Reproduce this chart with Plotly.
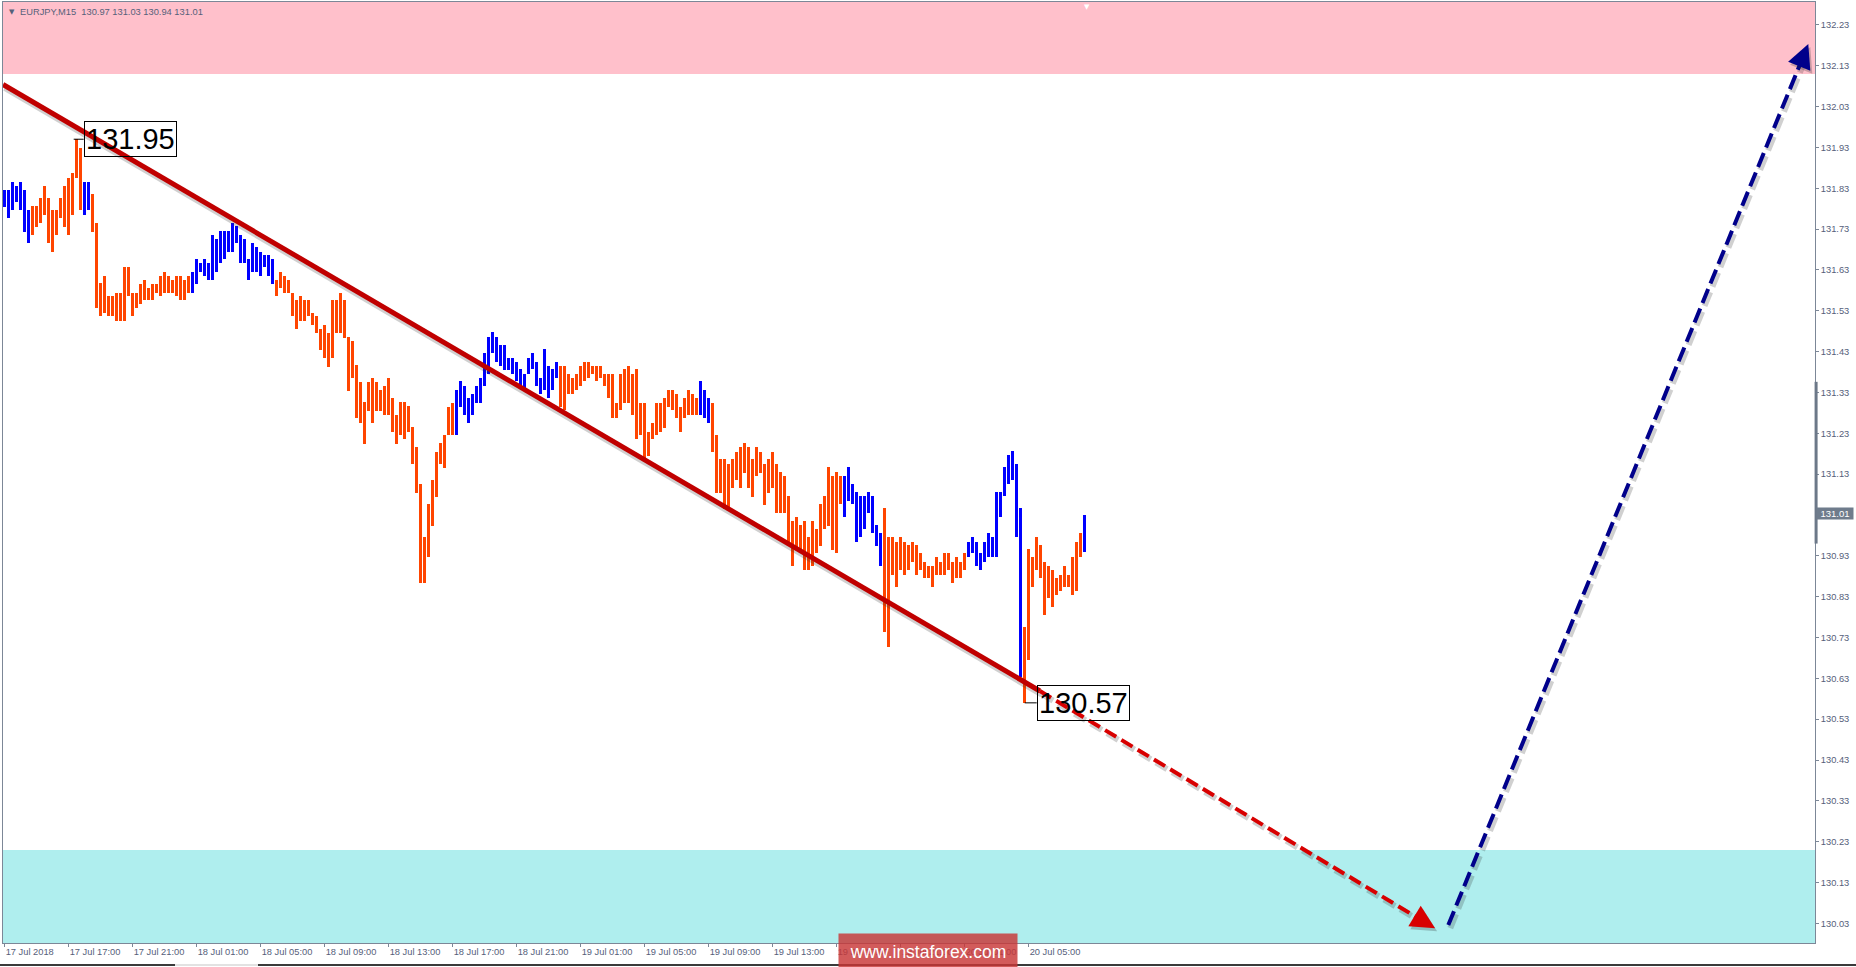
import math
import plotly.graph_objects as go

# ---------------- data ----------------
header_text = "EURJPY,M15  130.97 131.03 130.94 131.01"

bar_high = [
    131.826, 131.826, 131.846, 131.836, 131.846, 131.826, 131.777, 131.787, 131.787, 131.806,
    131.836, 131.806, 131.777, 131.777, 131.806, 131.836, 131.856, 131.867, 131.950, 131.928,
    131.846, 131.846, 131.815, 131.746, 131.597, 131.615, 131.566, 131.566, 131.574, 131.574,
    131.638, 131.638, 131.574, 131.574, 131.595, 131.605, 131.585, 131.595, 131.595, 131.615,
    131.626, 131.615, 131.605, 131.615, 131.615, 131.605, 131.615, 131.626, 131.656, 131.646,
    131.656, 131.646, 131.716, 131.705, 131.725, 131.725, 131.725, 131.746, 131.738, 131.716,
    131.705, 131.656, 131.695, 131.685, 131.675, 131.667, 131.667, 131.656, 131.605, 131.626,
    131.615, 131.605, 131.574, 131.556, 131.566, 131.556, 131.556, 131.525, 131.516, 131.485,
    131.495, 131.475, 131.556, 131.556, 131.574, 131.556, 131.465, 131.456, 131.397, 131.356,
    131.307, 131.356, 131.366, 131.356, 131.336, 131.346, 131.366, 131.317, 131.276, 131.307,
    131.307, 131.297, 131.246, 131.197, 131.107, 130.977, 131.057, 131.116, 131.185, 131.206,
    131.226, 131.295, 131.305, 131.336, 131.357, 131.346, 131.316, 131.325, 131.346, 131.365,
    131.426, 131.467, 131.477, 131.467, 131.446, 131.446, 131.415, 131.415, 131.405, 131.387,
    131.374, 131.415, 131.426, 131.405, 131.365, 131.436, 131.395, 131.387, 131.405, 131.395,
    131.395, 131.374, 131.365, 131.374, 131.395, 131.405, 131.405, 131.395, 131.395, 131.395,
    131.374, 131.374, 131.374, 131.305, 131.374, 131.387, 131.395, 131.374, 131.387, 131.305,
    131.305, 131.234, 131.254, 131.305, 131.305, 131.316, 131.336, 131.336, 131.325, 131.295,
    131.316, 131.336, 131.325, 131.316, 131.357, 131.336, 131.316, 131.305, 131.226, 131.166,
    131.166, 131.156, 131.166, 131.185, 131.197, 131.206, 131.197, 131.166, 131.197, 131.185,
    131.156, 131.166, 131.185, 131.156, 131.136, 131.125, 131.076, 131.016, 131.026, 131.005,
    131.016, 130.977, 131.016, 130.995, 131.057, 131.076, 131.148, 131.125, 131.136, 131.125,
    131.125, 131.148, 131.106, 131.087, 131.076, 131.076, 131.087, 131.076, 131.005, 130.985,
    131.046, 130.977, 130.975, 130.965, 130.975, 130.965, 130.956, 130.965, 130.956, 130.936,
    130.916, 130.905, 130.905, 130.926, 130.916, 130.936, 130.936, 130.916, 130.926, 130.916,
    130.936, 130.965, 130.977, 130.965, 130.936, 130.965, 130.985, 130.975, 131.087, 131.087,
    131.148, 131.177, 131.187, 131.156, 131.046, 130.756, 130.946, 130.926, 130.975, 130.956,
    130.916, 130.905, 130.895, 130.875, 130.883, 130.905, 130.883, 130.926, 130.965, 130.985,
    131.030,
]

bar_low = [
    131.785, 131.757, 131.777, 131.797, 131.777, 131.724, 131.695, 131.716, 131.736, 131.746,
    131.765, 131.695, 131.675, 131.716, 131.757, 131.736, 131.716, 131.765, 131.855, 131.777,
    131.765, 131.777, 131.724, 131.536, 131.516, 131.525, 131.516, 131.516, 131.506, 131.506,
    131.506, 131.565, 131.516, 131.536, 131.547, 131.557, 131.557, 131.557, 131.574, 131.566,
    131.574, 131.574, 131.574, 131.565, 131.557, 131.557, 131.574, 131.574, 131.595, 131.626,
    131.615, 131.605, 131.605, 131.626, 131.646, 131.656, 131.675, 131.675, 131.695, 131.646,
    131.646, 131.605, 131.626, 131.626, 131.615, 131.638, 131.615, 131.595, 131.565, 131.585,
    131.574, 131.574, 131.516, 131.485, 131.506, 131.506, 131.516, 131.495, 131.475, 131.434,
    131.414, 131.393, 131.414, 131.475, 131.475, 131.464, 131.334, 131.365, 131.267, 131.254,
    131.205, 131.285, 131.254, 131.285, 131.285, 131.275, 131.275, 131.234, 131.205, 131.226,
    131.215, 131.234, 131.156, 131.085, 130.863, 130.864, 130.926, 131.003, 131.075, 131.156,
    131.144, 131.226, 131.226, 131.226, 131.295, 131.275, 131.254, 131.275, 131.305, 131.305,
    131.346, 131.374, 131.426, 131.405, 131.395, 131.385, 131.385, 131.374, 131.357, 131.346,
    131.336, 131.374, 131.387, 131.346, 131.325, 131.336, 131.316, 131.336, 131.365, 131.295,
    131.286, 131.325, 131.325, 131.336, 131.346, 131.357, 131.365, 131.374, 131.357, 131.365,
    131.346, 131.316, 131.267, 131.267, 131.286, 131.305, 131.305, 131.275, 131.215, 131.226,
    131.166, 131.174, 131.215, 131.226, 131.234, 131.244, 131.295, 131.286, 131.267, 131.234,
    131.267, 131.275, 131.275, 131.275, 131.275, 131.267, 131.254, 131.185, 131.085, 131.085,
    131.044, 131.044, 131.095, 131.116, 131.095, 131.134, 131.095, 131.075, 131.126, 131.134,
    131.055, 131.085, 131.095, 131.034, 131.036, 131.036, 130.965, 130.905, 130.944, 130.936,
    130.895, 130.895, 130.905, 130.936, 130.954, 130.995, 131.003, 130.944, 130.936, 131.057,
    131.026, 131.065, 131.057, 130.965, 130.975, 130.995, 131.036, 130.985, 130.954, 130.905,
    130.744, 130.706, 130.883, 130.854, 130.895, 130.883, 130.895, 130.916, 130.883, 130.895,
    130.875, 130.875, 130.854, 130.883, 130.883, 130.883, 130.895, 130.864, 130.875, 130.875,
    130.895, 130.926, 130.936, 130.905, 130.895, 130.916, 130.926, 130.926, 130.926, 131.026,
    131.076, 131.106, 131.116, 130.975, 130.634, 130.570, 130.676, 130.854, 130.895, 130.875,
    130.785, 130.826, 130.805, 130.834, 130.845, 130.854, 130.854, 130.834, 130.845, 130.926,
    130.940,
]

# wave colouring: (colour key, number of bars)
color_runs = [
    ("up", 7), ("down", 13), ("up", 2), ("down", 25), ("up", 21), ("down", 45),
    ("up", 26), ("down", 35), ("up", 3), ("down", 33), ("up", 10), ("down", 21),
    ("up", 14), ("down", 15), ("up", 1),
]

x_tick_bars = [0, 16, 32, 48, 64, 80, 96, 112, 128, 144, 160, 176, 192, 208, 224, 240, 256]
x_tick_labels = [
    "17 Jul 2018", "17 Jul 17:00", "17 Jul 21:00", "18 Jul 01:00", "18 Jul 05:00",
    "18 Jul 09:00", "18 Jul 13:00", "18 Jul 17:00", "18 Jul 21:00", "19 Jul 01:00",
    "19 Jul 05:00", "19 Jul 09:00", "19 Jul 13:00", "19 Jul 17:00", "19 Jul 21:00",
    "20 Jul 01:00", "20 Jul 05:00",
]

y_tick_labels = [
    "130.03", "130.13", "130.23", "130.33", "130.43", "130.53", "130.63", "130.73",
    "130.83", "130.93", "131.03", "131.13", "131.23", "131.33", "131.43", "131.53",
    "131.63", "131.73", "131.83", "131.93", "132.03", "132.13", "132.23",
]

last_price = 131.01
peak_label = "131.95"
peak_bar = 18
trough_label = "130.57"
trough_bar = 255

resistance_zone = [132.11, 132.40]
support_zone = [129.90, 130.21]

trend_x = [-0.42, 258.8]
trend_y = [132.084, 130.599]
down_forecast_x = [258.8, 357.6]
down_forecast_y = [130.599, 130.018]
up_forecast_x = [360.9, 450.9]
up_forecast_y = [130.026, 132.183]

# ---------------- layout constants ----------------
W, H = 1856, 967
ML, MR, MT, MB = 3, 41, 2, 24
X_RANGE = [-0.425, 452.575]
Y_RANGE = [129.982, 132.286]
PX_PER_X = (W - ML - MR) / (X_RANGE[1] - X_RANGE[0])
PX_PER_Y = (H - MT - MB) / (Y_RANGE[1] - Y_RANGE[0])

UP_COLOR = "#0000FF"
DOWN_COLOR = "#FF4500"
AXIS_COLOR = "#7c8797"
TEXT_COLOR = "#56607a"

colors = []
for key, n in color_runs:
    colors += [UP_COLOR if key == "up" else DOWN_COLOR] * n

idx = list(range(len(bar_high)))

fig = go.Figure()

fig.add_trace(go.Bar(
    x=idx,
    y=[h - l for h, l in zip(bar_high, bar_low)],
    base=bar_low,
    width=0.75,
    marker=dict(color=colors, line=dict(width=0)),
    hoverinfo="skip",
    showlegend=False,
))

# pixel offset helper for shadows
def shift(xs, ys, dx_px, dy_px):
    return ([x + dx_px / PX_PER_X for x in xs], [y - dy_px / PX_PER_Y for y in ys])

def add_line(xs, ys, color, width, dash=None):
    sx, sy = shift(xs, ys, 2, 3)
    fig.add_trace(go.Scatter(x=sx, y=sy, mode="lines",
                             line=dict(color="rgba(40,40,40,0.22)", width=width + 2, dash=dash),
                             hoverinfo="skip", showlegend=False))
    fig.add_trace(go.Scatter(x=xs, y=ys, mode="lines",
                             line=dict(color=color, width=width, dash=dash),
                             hoverinfo="skip", showlegend=False))

def trimmed(xs, ys, px):
    dxp = (xs[1] - xs[0]) * PX_PER_X
    dyp = (ys[1] - ys[0]) * PX_PER_Y
    L = math.hypot(dxp, dyp)
    f = (L - px) / L
    return [xs[0], xs[0] + (xs[1] - xs[0]) * f], [ys[0], ys[0] + (ys[1] - ys[0]) * f]

add_line(trend_x, trend_y, "#c00000", 5)
dx, dy = trimmed(down_forecast_x, down_forecast_y, 14)
add_line(dx, dy, "#d80000", 4, dash="13px,6px")
ux, uy = trimmed(up_forecast_x, up_forecast_y, 14)
add_line(ux, uy, "#00008b", 4, dash="15px,6px")

annotations = []

def arrow_head(xs, ys, color):
    dxp = (xs[1] - xs[0]) * PX_PER_X
    dyp = (ys[1] - ys[0]) * PX_PER_Y
    L = math.hypot(dxp, dyp)
    back = 20
    ax = xs[1] - dxp / L * back / PX_PER_X
    ay = ys[1] - dyp / L * back / PX_PER_Y
    for col, xs_, ys_ in (("rgba(40,40,40,0.25)", 2, -3), (color, 0, 0)):
        annotations.append(dict(
            x=xs[1], y=ys[1], ax=ax, ay=ay, xref="x", yref="y", axref="x", ayref="y",
            text="", showarrow=True, arrowhead=2, arrowsize=1.2, arrowwidth=4,
            arrowcolor=col, standoff=0, xshift=xs_, yshift=ys_,
        ))

arrow_head(down_forecast_x, down_forecast_y, "#d80000")
arrow_head(up_forecast_x, up_forecast_y, "#00008b")

shapes = []
shapes.append(dict(type="rect", xref="paper", yref="y", x0=0, x1=1,
                   y0=resistance_zone[0], y1=resistance_zone[1],
                   fillcolor="#FFC0CB", line=dict(width=0), layer="below"))
shapes.append(dict(type="rect", xref="paper", yref="y", x0=0, x1=1,
                   y0=support_zone[0], y1=support_zone[1],
                   fillcolor="#AFEEEE", line=dict(width=0), layer="below"))

peak_val = float(peak_label)
trough_val = float(trough_label)
shapes.append(dict(type="line", xref="x", yref="y",
                   x0=peak_bar - 3 / PX_PER_X, x1=peak_bar + 7 / PX_PER_X,
                   y0=peak_val, y1=peak_val, line=dict(color="black", width=1)))
shapes.append(dict(type="line", xref="x", yref="y",
                   x0=trough_bar, x1=trough_bar + 12 / PX_PER_X,
                   y0=trough_val, y1=trough_val, line=dict(color="black", width=1)))

label_font = dict(family="Liberation Sans, Arial, sans-serif", size=29, color="black")
annotations.append(dict(x=peak_bar, y=peak_val, xref="x", yref="y", text=peak_label,
                        showarrow=False, xanchor="left", yanchor="middle", xshift=7,
                        font=label_font, bordercolor="black", borderwidth=1, borderpad=1))
annotations.append(dict(x=trough_bar, y=trough_val, xref="x", yref="y", text=trough_label,
                        showarrow=False, xanchor="left", yanchor="middle", xshift=12,
                        font=label_font, bordercolor="black", borderwidth=1, borderpad=1))

# header
annotations.append(dict(x=0, y=1, xref="paper", yref="paper", text="▼", showarrow=False,
                        xanchor="left", yanchor="top", xshift=4, yshift=-4,
                        font=dict(family="DejaVu Sans", size=7, color=TEXT_COLOR)))
annotations.append(dict(x=0, y=1, xref="paper", yref="paper", text=header_text, showarrow=False,
                        xanchor="left", yanchor="top", xshift=15, yshift=-3,
                        font=dict(family="Liberation Sans, Arial", size=9.3, color=TEXT_COLOR)))
# chart shift marker
annotations.append(dict(x=idx[-1] + 0.5, y=1, xref="x", yref="paper", text="▼", showarrow=False,
                        xanchor="center", yanchor="top", yshift=1,
                        font=dict(family="DejaVu Sans", size=7, color="white")))

# current price label
annotations.append(dict(x=1, y=last_price, xref="paper", yref="y", text=f"{last_price:.2f}",
                        showarrow=False, xanchor="left", yanchor="middle", xshift=1, yshift=10,
                        bgcolor="#6f7c8c", borderpad=0, width=36, height=11,
                        font=dict(family="Liberation Sans, Arial", size=9.5, color="white")))

# watermark
annotations.append(dict(x=(928 - ML) / (W - ML - MR), y=-(952 - (H - MB)) / (H - MT - MB),
                        xref="paper", yref="paper", text="www.instaforex.com", showarrow=False,
                        xanchor="center", yanchor="middle", width=176, height=34,
                        bgcolor="rgba(200,55,55,0.82)",
                        font=dict(family="Liberation Sans, Arial", size=17.5, color="white")))

# dark range marker on price scale
shapes.append(dict(type="line", xref="paper", yref="y", x0=1.0006, x1=1.0006,
                   y0=130.96, y1=131.356, line=dict(color="#6c7888", width=3)))
# bottom tab bar line
shapes.append(dict(type="line", xref="paper", yref="paper",
                   x0=-ML / (W - ML - MR), x1=(W - ML) / (W - ML - MR),
                   y0=-(965 - (H - MB)) / (H - MT - MB), y1=-(965 - (H - MB)) / (H - MT - MB),
                   line=dict(color="#3a3a3a", width=2)))
shapes.append(dict(type="line", xref="paper", yref="paper",
                   x0=(175 - ML) / (W - ML - MR), x1=(258 - ML) / (W - ML - MR),
                   y0=-(965 - (H - MB)) / (H - MT - MB), y1=-(965 - (H - MB)) / (H - MT - MB),
                   line=dict(color="#e2e2e2", width=2)))

tick_font = dict(family="Liberation Sans, Arial, sans-serif", size=9.3, color=TEXT_COLOR)

fig.update_layout(
    width=W, height=H, autosize=False,
    margin=dict(l=ML, r=MR, t=MT, b=MB, pad=0),
    paper_bgcolor="white", plot_bgcolor="white",
    showlegend=False, hovermode=False,
    bargap=0,
    shapes=shapes, annotations=annotations,
    xaxis=dict(range=X_RANGE, showgrid=False, zeroline=False,
               tickmode="array", tickvals=x_tick_bars, ticktext=x_tick_labels,
               ticks="outside", ticklen=3, tickcolor=AXIS_COLOR, tickwidth=1,
               ticklabelposition="outside right",
               showline=True, linecolor=AXIS_COLOR, linewidth=1, mirror=True,
               tickfont=tick_font, fixedrange=True),
    yaxis=dict(range=Y_RANGE, side="right", showgrid=False, zeroline=False,
               tickmode="array", tickvals=[float(v) for v in y_tick_labels], ticktext=y_tick_labels,
               ticks="outside", ticklen=3, tickcolor=AXIS_COLOR, tickwidth=1,
               showline=True, linecolor=AXIS_COLOR, linewidth=1, mirror=True,
               tickfont=tick_font, fixedrange=True),
)

fig.write_html("out.html", config={"displayModeBar": False},
               post_script="document.body.style.margin='0';document.body.style.overflow='hidden';")
